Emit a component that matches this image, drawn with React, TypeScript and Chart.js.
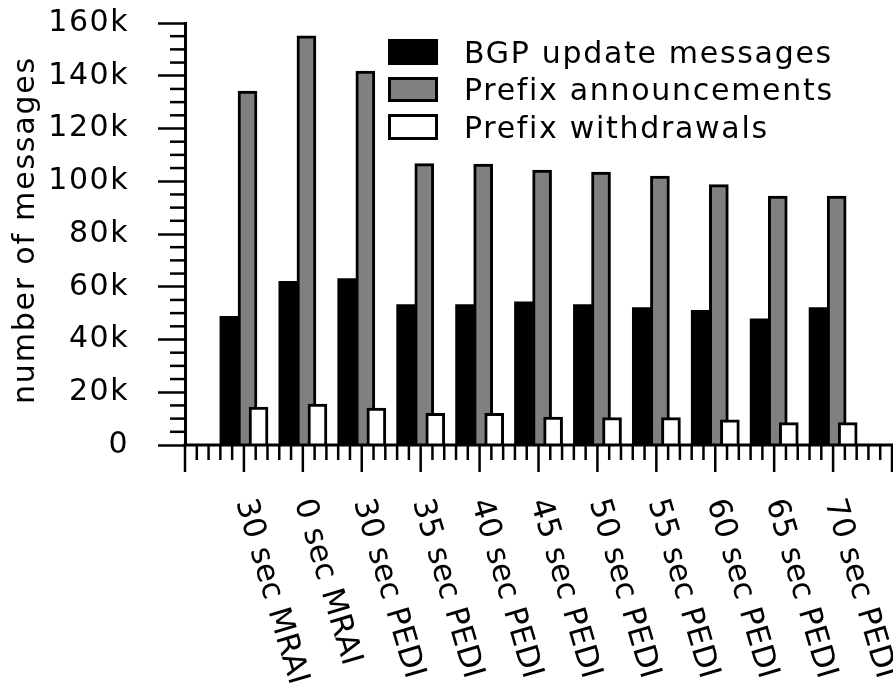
import React, { useEffect, useRef } from 'react';
import { Chart, registerables } from 'chart.js';

Chart.register(...registerables);

const FONT_FAMILY = '"DejaVu Sans", "Liberation Sans", sans-serif';

const categories = [
  '30 sec MRAI',
  '0 sec MRAI',
  '30 sec PEDI',
  '35 sec PEDI',
  '40 sec PEDI',
  '45 sec PEDI',
  '50 sec PEDI',
  '55 sec PEDI',
  '60 sec PEDI',
  '65 sec PEDI',
  '70 sec PEDI',
];

const seriesNames = ['BGP update messages', 'Prefix announcements', 'Prefix withdrawals'];

const bgpUpdateMessages = [48800, 62100, 63100, 53200, 53200, 54300, 53200, 52100, 51100, 47800, 52100];
const prefixAnnouncements = [134200, 155100, 141800, 106700, 106500, 104200, 103500, 102000, 98700, 94400, 94400];
const prefixWithdrawals = [14400, 15500, 14000, 12000, 12000, 10600, 10400, 10400, 9500, 8500, 8500];

const yAxisTitle = 'number of messages';
const yMin = 0;
const yMax = 160000;
const yMajorStep = 20000;
const yMinorStep = 5000;
const xMin = -1;
const xMax = 11;
const xMinorStep = 0.2;

const formatYTick = (v: number) => (v === 0 ? '0' : `${Math.round(v / 1000)}k`);

// layout / style constants (not data)
const SERIES_OFFSETS = [-0.238, 0.061, 0.248];
const SERIES_FILL = ['#000000', '#808080', '#ffffff'];
const SERIES_THICKNESS = [20, 19, 19];
const SERIES_BORDER = [0, 3, 3];
const FONT_SIZE = 30;

const gnuplotPlugin = {
  id: 'gnuplotDecor',
  beforeDraw(chart: any) {
    (chart.ctx as any).letterSpacing = '1.5px';
  },
  afterDraw(chart: any) {
    const { ctx, chartArea, scales } = chart;
    const xs = scales.x;
    const ys = scales.y;
    const line = (x1: number, y1: number, x2: number, y2: number) => {
      ctx.beginPath();
      ctx.moveTo(x1, y1);
      ctx.lineTo(x2, y2);
      ctx.stroke();
    };
    ctx.save();
    ctx.strokeStyle = '#000';
    ctx.fillStyle = '#000';

    // y minor ticks
    ctx.lineWidth = 2.5;
    for (let v = yMin; v <= yMax; v += yMinorStep) {
      if (v % yMajorStep === 0) continue;
      const py = ys.getPixelForValue(v);
      line(chartArea.left - 15, py, chartArea.left, py);
    }

    // x axis line
    ctx.lineWidth = 3;
    line(chartArea.left - 1.5, chartArea.bottom, chartArea.right + 1, chartArea.bottom);

    // x ticks (major at integers, minor every 0.2)
    ctx.lineWidth = 2.5;
    const nSteps = Math.round((xMax - xMin) / xMinorStep);
    for (let k = 0; k <= nSteps; k++) {
      const v = xMin + k * xMinorStep;
      const px = xs.getPixelForValue(v);
      const len = k % 5 === 0 ? 27 : 15;
      line(px, chartArea.bottom, px, chartArea.bottom + len);
    }

    // x labels rotated clockwise
    (ctx as any).letterSpacing = '0.3px';
    ctx.font = `31px ${FONT_FAMILY}`;
    ctx.textAlign = 'left';
    ctx.textBaseline = 'alphabetic';
    categories.forEach((label, i) => {
      const px = xs.getPixelForValue(i);
      ctx.save();
      ctx.translate(px - 8, chartArea.bottom + 57);
      ctx.rotate((73.5 * Math.PI) / 180);
      ctx.fillText(label, 0, 0);
      ctx.restore();
    });

    // y axis title
    ctx.font = `${FONT_SIZE}px ${FONT_FAMILY}`;
    (ctx as any).letterSpacing = '1.8px';
    ctx.save();
    ctx.translate(34, 230);
    ctx.rotate(-Math.PI / 2);
    ctx.textAlign = 'center';
    ctx.fillText(yAxisTitle, 0, 0);
    ctx.restore();

    // legend
    (ctx as any).letterSpacing = '1.7px';
    ctx.textAlign = 'left';
    const rows = [
      { top: 39, h: 26 },
      { top: 77, h: 25 },
      { top: 114, h: 26 },
    ];
    chart.data.datasets.forEach((ds: any, i: number) => {
      const r = rows[i];
      const bx = 388;
      const bw = 50;
      ctx.fillStyle = '#000';
      ctx.fillRect(bx, r.top, bw, r.h);
      if (SERIES_BORDER[i] > 0) {
        const b = SERIES_BORDER[i];
        ctx.fillStyle = ds.backgroundColor;
        ctx.fillRect(bx + b, r.top + b, bw - 2 * b, r.h - 2 * b);
      }
      ctx.fillStyle = '#000';
      ctx.fillText(ds.label, 464, r.top + r.h / 2 + 10.5);
    });

    ctx.restore();
  },
};

export default function App() {
  const canvasRef = useRef<HTMLCanvasElement | null>(null);

  useEffect(() => {
    const canvas = canvasRef.current;
    if (!canvas) return;
    Chart.defaults.font.family = FONT_FAMILY;
    Chart.defaults.color = '#000';

    const seriesValues = [bgpUpdateMessages, prefixAnnouncements, prefixWithdrawals];
    const datasets = seriesValues.map((vals, s) => ({
      label: seriesNames[s],
      data: vals.map((v, i) => ({ x: i + SERIES_OFFSETS[s], y: v })),
      backgroundColor: SERIES_FILL[s],
      borderColor: '#000000',
      borderWidth: SERIES_BORDER[s],
      barThickness: SERIES_THICKNESS[s],
      grouped: false,
      borderSkipped: 'start',
      order: 2 - s,
    }));

    const chart = new Chart(canvas, {
      type: 'bar',
      data: { datasets: datasets as any },
      options: {
        animation: false,
        responsive: false,
        devicePixelRatio: 1,
        events: [],
        layout: { padding: { left: 0, right: 1, top: 23, bottom: 241 } },
        plugins: {
          legend: { display: false },
          tooltip: { enabled: false },
        },
        scales: {
          x: {
            type: 'linear',
            min: xMin,
            max: xMax,
            offset: false,
            display: false,
          },
          y: {
            type: 'linear',
            min: yMin,
            max: yMax,
            afterFit: (scale: any) => {
              scale.width = 185;
              scale.paddingTop = 0;
              scale.paddingBottom = 0;
            },
            ticks: {
              stepSize: yMajorStep,
              padding: 29,
              color: '#000',
              font: { size: FONT_SIZE, family: FONT_FAMILY },
              callback: (v: any) => formatYTick(Number(v)),
            },
            grid: {
              display: true,
              drawOnChartArea: false,
              drawTicks: true,
              tickLength: 27,
              tickWidth: 2.5,
              tickColor: '#000',
            },
            border: { display: true, color: '#000', width: 3 },
            title: { display: false },
          },
        },
      },
      plugins: [gnuplotPlugin],
    } as any);

    return () => chart.destroy();
  }, []);

  return (
    <div style={{ position: 'fixed', left: 0, top: 0, width: 893, height: 686, background: '#fff' }}>
      <canvas ref={canvasRef} width={893} height={686} style={{ width: 893, height: 686, display: 'block' }} />
    </div>
  );
}
